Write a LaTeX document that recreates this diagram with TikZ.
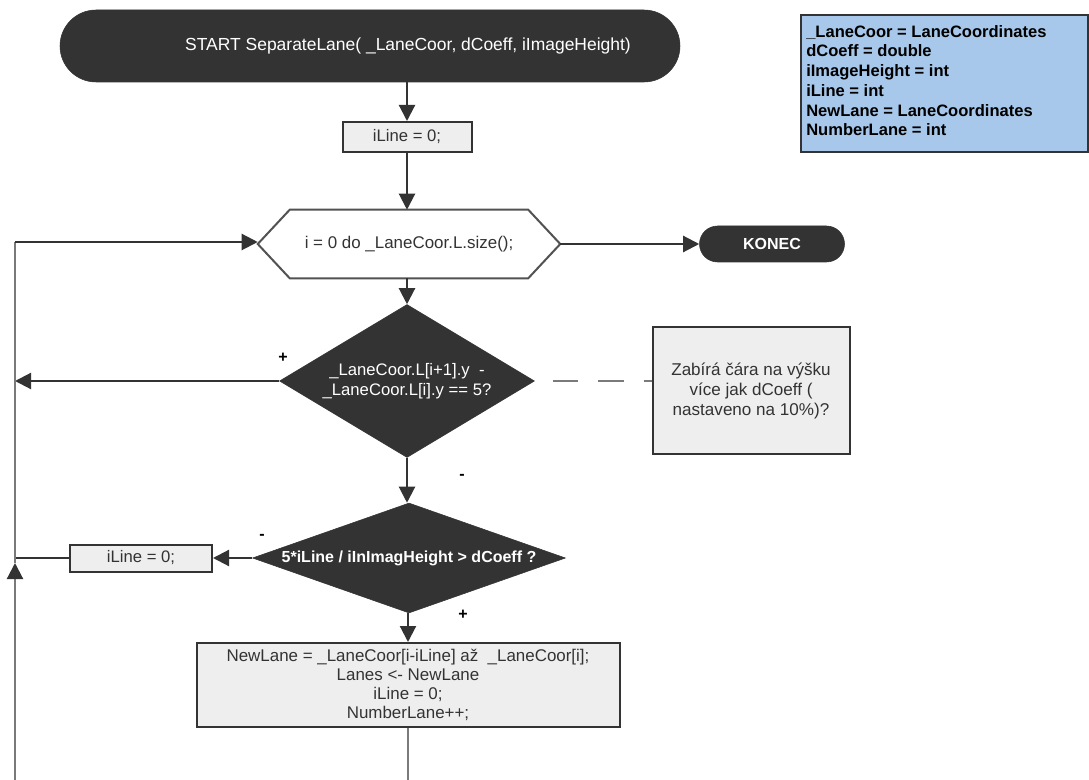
\documentclass[tikz,border=0pt]{standalone}
\usepackage{fontspec}
\setmainfont{Liberation Sans}
\usetikzlibrary{shapes.geometric,shapes.misc,arrows.meta}
\definecolor{dark}{HTML}{333333}
\definecolor{boxfill}{HTML}{EEEEEE}
\definecolor{legfill}{HTML}{A7C8EA}
\definecolor{greyline}{HTML}{7A7A7A}
\definecolor{txt}{HTML}{333333}
\tikzset{
  conn/.style={draw=dark, line width=1.6pt},
  arr/.style={conn, -{Triangle[length=12pt,width=12pt]}},
  greyconn/.style={draw=greyline, line width=1.6pt},
  terminal/.style={rounded rectangle, fill=dark, draw=dark, text=white, inner sep=0pt, font=\fontsize{12.5}{15}\selectfont},
  procbox/.style={rectangle, fill=boxfill, draw=dark, line width=1.5pt, text=txt, inner sep=0pt, align=center, font=\fontsize{12.5}{15}\selectfont},
  decision/.style={diamond, fill=dark, draw=dark, text=white, inner sep=0pt, align=center},
  signlabel/.style={font=\bfseries\fontsize{12}{14}\selectfont, text=black, inner sep=0pt},
}
\begin{document}
\begin{tikzpicture}[x=0.75pt,y=-0.75pt]
\useasboundingbox[fill=white] (0,0) rectangle (1089,780);

% legend
\node[rectangle, fill=legfill, draw=dark, line width=1.5pt, minimum width=215.25pt, minimum height=102.75pt, inner sep=0pt] (legend) at (944,84) {};
\node[anchor=north west, align=left, inner sep=0pt, text=black, font=\bfseries\fontsize{12.4}{14.8}\selectfont] (legtext) at (806,25)
 {\_LaneCoor = LaneCoordinates\\dCoeff = double\\iImageHeight = int\\iLine = int\\NewLane = LaneCoordinates\\NumberLane = int};

% start
\node[terminal, minimum width=465pt, minimum height=54pt] (start) at (370,46) {};
\node[inner sep=0pt, text=white, font=\fontsize{13.1}{15}\selectfont] (starttext) at (408,46) {START SeparateLane( \_LaneCoor, dCoeff, iImageHeight)};
\node[procbox, minimum width=96.75pt, minimum height=22.5pt] (init) at (407,137) {iLine = 0;};

% loop hexagon
\node[rectangle, minimum width=226.5pt, minimum height=51pt, inner sep=0pt] (loop) at (409,244) {};
\draw[draw=dark!85, line width=1.5pt, fill=white] (loop.west) -- ([xshift=24pt]loop.north west) -- ([xshift=-24pt]loop.north east) -- (loop.east) -- ([xshift=-24pt]loop.south east) -- ([xshift=24pt]loop.south west) -- cycle;
\node[inner sep=0pt, text=txt, font=\fontsize{12.7}{15}\selectfont] (looptext) at (loop.center) {i = 0 do \_LaneCoor.L.size();};

\node[terminal, minimum width=108.75pt, minimum height=27pt, font=\bfseries\fontsize{12}{14}\selectfont] (konec) at (772,244) {KONEC};

% decision 1
\node[decision, minimum width=191.25pt, minimum height=114.75pt, aspect=1.67, font=\fontsize{12.5}{15}\selectfont] (d1) at (407,381) {\_LaneCoor.L[i+1].y \ -\\\_LaneCoor.L[i].y == 5?};
\node[procbox, minimum width=147.75pt, minimum height=95.25pt, line width=1.5pt, font=\fontsize{12.8}{15}\selectfont] (note) at (751,391) {Zabírá čára na výšku\\více jak dCoeff (\\nastaveno na 10\%)?};

% decision 2
\node[decision, minimum width=234.75pt, minimum height=82.5pt, aspect=2.85, font=\bfseries\fontsize{12}{14}\selectfont] (d2) at (409,558) {5*iLine / iInImagHeight > dCoeff ?};
\node[procbox, minimum width=106.5pt, minimum height=20.25pt] (zero) at (141,558) {iLine = 0;};

% new lane
\node[procbox, minimum width=317.25pt, minimum height=63pt, font=\fontsize{12.7}{14.4}\selectfont] (new) at (408,685) {NewLane = \_LaneCoor[i-iLine] až \ \_LaneCoor[i];\\Lanes <- NewLane\\iLine = 0;\\NumberLane++;};

% coordinates
\coordinate (topleft) at (15,242);
\coordinate (leftd1) at (15,381);
\coordinate (leftzero) at (15,558);
\coordinate (uparrow) at (15,563);
\coordinate (botleft) at (15,780);
\coordinate (botmid) at (407,780);
\coordinate (dashstart) at (553,381);

% connectors
\draw[arr] (init.north |- start.south) -- (init.north);
\draw[arr] (init.south) -- (init.south |- loop.north);
\draw[arr] (loop.east) -- (konec.west);
\draw[arr] (d1.north |- loop.south) -- (d1.north);
\draw[arr] (d1.west) -- (leftd1);
\draw[draw=greyline, line width=2pt, dash pattern=on 19pt off 15pt] (dashstart) -- (dashstart -| note.west);
\draw[arr] (d1.south) -- (d1.south |- d2.north);
\draw[arr] (d2.west) -- (zero.east);
\draw[conn] (zero.west) -- (leftzero);
\draw[greyconn, -{Triangle[length=12pt,width=12pt,color=dark]}] (botleft) -- (uparrow);
\draw[greyconn] (uparrow) -- (topleft);
\draw[arr] (topleft) -- (topleft -| loop.west);
\draw[arr] (d2.south -| new.north) -- (new.north);
\draw[greyconn] (new.south) -- (new.south |- botmid);

% labels
\node[signlabel] (p1) at (283,358) {+};
\node[signlabel] (m1) at (462,477) {-};
\node[signlabel] (m2) at (262,537) {-};
\node[signlabel] (p2) at (463,615) {+};
\end{tikzpicture}
\end{document}
